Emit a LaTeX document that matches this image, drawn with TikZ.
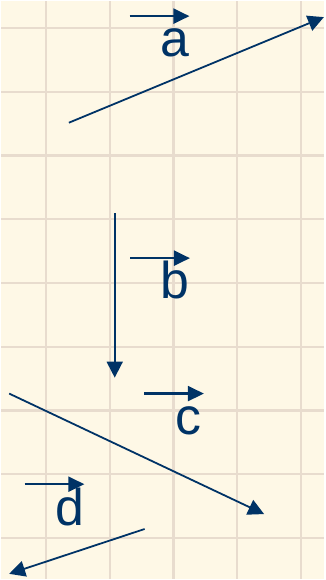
\documentclass[tikz,border=0pt]{standalone}
\usepackage{fontspec}
\setmainfont{Liberation Sans}
\usetikzlibrary{arrows.meta}
\definecolor{blu}{RGB}{0,51,102}
\definecolor{carta}{RGB}{254,248,230}
\definecolor{griglia}{RGB}{232,220,206}

\begin{document}
\begin{tikzpicture}[x=1pt,y=-1pt,
    vettore/.style={blu, line width=1.8pt, -{Triangle[length=16pt,width=16pt]}},
    freccina/.style={blu, line width=2.2pt, -{Triangle[length=16pt,width=15pt]}},
    lettera/.style={blu, font=\fontsize{52}{52}\selectfont, inner sep=0pt}]
				% Foglio a quadretti
				\fill[carta] (0,0) rectangle (324,580);
				\foreach \x in {45,109,...,301} \draw[griglia, line width=2.4pt] (\x,0) -- (\x,580);
				\foreach \y in {27,91,...,539} \draw[griglia, line width=2.4pt] (0,\y) -- (324,\y);
				\useasboundingbox (0,0) rectangle (324,580);
				
				% Nomi dei vettori con la freccetta sopra
				\foreach \n/\x/\y in {a/174/56, b/174.5/299, c/188.5/435, d/68.5/526} {
					\node[lettera, anchor=base] (nome\n) at (\x,\y) {\n};
					\draw[freccina] ([shift={(-45,-41)}]nome\n.base) -- ++(60,0);
				}
				
				% Estremi dei vettori
				\coordinate (a1) at (68,122);  \coordinate (a2) at (324,16);
				\coordinate (b1) at (114,213); \coordinate (b2) at (114,378);
				\coordinate (c1) at (8,394);   \coordinate (c2) at (264,515);
				\coordinate (d1) at (144,530); \coordinate (d2) at (8,575);
				\foreach \v in {a,b,c,d}
					\draw[vettore] (\v1) -- (\v2);
			\end{tikzpicture}
\end{document}
